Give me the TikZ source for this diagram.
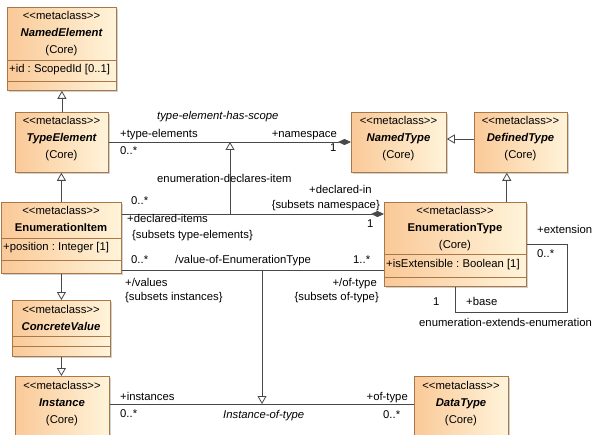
\documentclass[tikz,border=0pt]{standalone}
\usepackage{fontspec}
\setmainfont{Liberation Sans}
\usetikzlibrary{arrows.meta,shadows,calc}
\definecolor{clsL}{RGB}{250,201,152}
\definecolor{clsR}{RGB}{255,244,218}
\definecolor{clsB}{RGB}{170,120,72}
\definecolor{ln}{RGB}{72,72,72}
\tikzset{
  cls/.style={draw=clsB, line width=0.8pt, left color=clsL, right color=clsR, inner sep=0pt, anchor=north west,
    drop shadow={shadow xshift=2pt, shadow yshift=-2pt, fill=black, opacity=0.18}},
  comp/.style={draw=clsB, line width=0.8pt},
  txt/.style={inner sep=0pt, font=\fontsize{11.3}{13}\selectfont, text=black},
  hd/.style={txt, anchor=base},
  nm/.style={txt, anchor=base, font=\fontsize{11.3}{13}\selectfont\bfseries},
  nmi/.style={txt, anchor=base, font=\fontsize{11.3}{13}\selectfont\bfseries\itshape},
  lw/.style={txt, anchor=base west},
  le/.style={txt, anchor=base east},
  lwi/.style={txt, anchor=base west, font=\fontsize{11.3}{13}\selectfont\itshape},
  conn/.style={draw=ln, line width=0.8pt},
  gen/.style={conn, -{Triangle[open, length=8pt, width=9pt, fill=white]}},
  cmp/.style={conn, -{Diamond[length=13pt, width=6pt]}},
}
\frenchspacing
\begin{document}
\begin{tikzpicture}[x=1pt,y=-1pt]
\useasboundingbox (0,0) rectangle (596,435);
\clip (0,0) rectangle (596,435);
% ---------- class boxes ----------
\node[cls, minimum width=109pt, minimum height=83pt] (ne) at (7,7) {};
\node[cls, minimum width=93pt, minimum height=60pt] (te) at (15,112) {};
\node[cls, minimum width=120pt, minimum height=71pt] (ei) at (1,202) {};
\node[cls, minimum width=98pt, minimum height=56pt] (cv) at (12,300) {};
\node[cls, minimum width=94pt, minimum height=74pt] (in) at (15,376) {};
\node[cls, minimum width=95pt, minimum height=60pt] (nt) at (351,112) {};
\node[cls, minimum width=93pt, minimum height=60pt] (dt) at (474,112) {};
\node[cls, minimum width=142pt, minimum height=84pt] (et) at (384,202) {};
\node[cls, minimum width=94pt, minimum height=74pt] (da) at (414,376) {};
% compartments
\draw[comp] (ne.west |- 0,60) -- (ne.east |- 0,60);
\draw[comp] (ne.west |- 0,81) -- (ne.east |- 0,81);
\draw[comp] (ei.west |- 0,238) -- (ei.east |- 0,238);
\draw[comp] (ei.west |- 0,260) -- (ei.east |- 0,260);
\draw[comp] (cv.west |- 0,336) -- (cv.east |- 0,336);
\draw[comp] (cv.west |- 0,346) -- (cv.east |- 0,346);
\draw[comp] (et.west |- 0,254) -- (et.east |- 0,254);
\draw[comp] (et.west |- 0,277) -- (et.east |- 0,277);
% ---------- class texts ----------
\node[hd] (ne1) at (61.5,19.5) {<{}<metaclass>{}>};
\node[nmi] (ne2) at (61.5,36.5) {NamedElement};
\node[hd] (ne3) at (61.5,54) {(Core)};
\node[lw] (ne4) at (9,73) {+id : ScopedId [0..1]};
\node[hd] (te1) at (61.5,125) {<{}<metaclass>{}>};
\node[nmi] (te2) at (61.5,142) {TypeElement};
\node[hd] (te3) at (61.5,159) {(Core)};
\node[hd] (ei1) at (61,215) {<{}<metaclass>{}>};
\node[nm] (ei2) at (61,232) {EnumerationItem};
\node[lw] (ei3) at (3,251) {+position : Integer [1]};
\node[hd] (cv1) at (61,313) {<{}<metaclass>{}>};
\node[nmi] (cv2) at (61,330) {ConcreteValue};
\node[hd] (in1) at (62,389) {<{}<metaclass>{}>};
\node[nmi] (in2) at (62,406) {Instance};
\node[hd] (in3) at (62,423) {(Core)};
\node[hd] (nt1) at (398.5,125) {<{}<metaclass>{}>};
\node[nmi] (nt2) at (398.5,142) {NamedType};
\node[hd] (nt3) at (398.5,159) {(Core)};
\node[hd] (dt1) at (520.5,125) {<{}<metaclass>{}>};
\node[nmi] (dt2) at (520.5,142) {DefinedType};
\node[hd] (dt3) at (520.5,159) {(Core)};
\node[hd] (et1) at (455,215) {<{}<metaclass>{}>};
\node[nm] (et2) at (455,232) {EnumerationType};
\node[hd] (et3) at (455,249) {(Core)};
\node[lw] (et4) at (386,267) {+isExtensible : Boolean [1]};
\node[hd] (da1) at (461,389) {<{}<metaclass>{}>};
\node[nmi] (da2) at (461,406) {DataType};
\node[hd] (da3) at (461,423) {(Core)};
% ---------- generalizations ----------
\draw[gen] (te.north) -- (te.north |- ne.south);
\draw[gen] (ei.north) -- (ei.north |- te.south);
\draw[gen] (ei.south) -- (ei.south |- cv.north);
\draw[gen] (cv.south) -- (cv.south |- in.north);
\draw[gen] (dt.west |- 0,139) -- (nt.east |- 0,139);
\draw[gen] ([xshift=-20pt]et.north east) -- ([xshift=-20pt]et.north east |- dt.south);
% ---------- associations ----------
\draw[cmp] (te.east |- 0,142) -- (nt.west |- 0,142);
\draw[cmp] (ei.east |- 0,214) -- (et.west |- 0,214);
\draw[conn] (ei.east |- 0,270) -- (et.west |- 0,270);
\draw[conn] (in.east |- 0,404) -- (da.west |- 0,404);
\coordinate (sx1) at (567,312);
\draw[conn] (et.east |- 0,244) -| (sx1) -| (et.south);
\coordinate (s1a) at (230,214);
\coordinate (s1b) at (230,142);
\draw[gen] (s1a) -- (s1b);
\coordinate (s2a) at (262,270);
\coordinate (s2b) at (262,404);
\draw[gen] (s2a) -- (s2b);
% ---------- labels ----------
\node[lwi] (l1) at (157,120) {type-element-has-scope};
\node[lw] (l2) at (120,138) {+type-elements};
\node[lw] (l3) at (120,155) {0..*};
\node[le] (l4) at (337,138) {+namespace};
\node[lw] (l5) at (330,152) {1};
\node[lw] (l6) at (157,183) {enumeration-declares-item};
\node[lw] (l7) at (131,205) {0..*};
\node[lw] (l8) at (127,223) {+declared-items};
\node[lw] (l9) at (132,239) {\{subsets type-elements\}};
\node[lw] (l10) at (309,194) {+declared-in};
\node[le] (l11) at (380,209) {\{subsets namespace\}};
\node[lw] (l12) at (367,228) {1};
\node[lw] (l13) at (131,264) {0..*};
\node[lw] (l14) at (175,264) {/value-of-EnumerationType};
\node[lw] (l15) at (353,264) {1..*};
\node[lw] (l16) at (125,286) {+/values};
\node[lw] (l17) at (125,300) {\{subsets instances\}};
\node[le] (l18) at (377,286) {+/of-type};
\node[le] (l19) at (379,300) {\{subsets of-type\}};
\node[lw] (l20) at (537,234) {+extension};
\node[lw] (l21) at (537,258) {0..*};
\node[lw] (l22) at (433,305) {1};
\node[lw] (l23) at (466,305) {+base};
\node[lw] (l24) at (419,326) {enumeration-extends-enumeration};
\node[lw] (l25) at (120,400) {+instances};
\node[lw] (l26) at (120,417) {0..*};
\node[lwi] (l27) at (223,418) {Instance-of-type};
\node[le] (l28) at (408,400) {+of-type};
\node[lw] (l29) at (383,418) {0..*};
\end{tikzpicture}
\end{document}
